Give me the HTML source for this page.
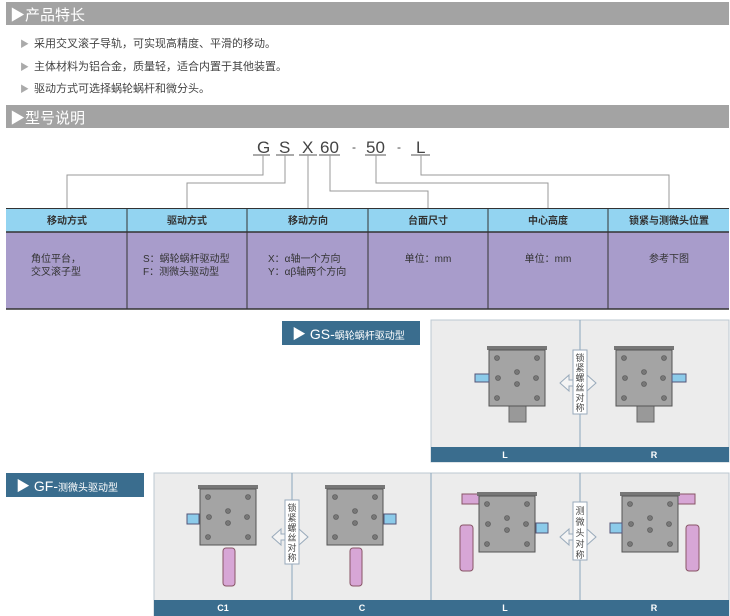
<!DOCTYPE html>
<html><head><meta charset="utf-8"><style>
html,body{margin:0;padding:0;background:#fff;}
svg{display:block;font-family:"Liberation Sans","Noto Sans CJK SC",sans-serif;}
</style></head><body>
<svg width="730" height="616" viewBox="0 0 730 616" xmlns="http://www.w3.org/2000/svg">
<defs>
<g id="dev">
  <rect x="-2" y="-4" width="60" height="4" fill="#777"/>
  <rect x="0" y="0" width="56" height="56" fill="#a4a4a4" stroke="#555" stroke-width="1"/>
  <g fill="#777" stroke="#555" stroke-width="0.6">
   <circle cx="8" cy="8" r="2.5"/><circle cx="48" cy="8" r="2.5"/>
   <circle cx="8" cy="48" r="2.5"/><circle cx="48" cy="48" r="2.5"/>
   <circle cx="28" cy="22" r="2.5"/><circle cx="28" cy="34" r="2.5"/>
   <circle cx="9" cy="28" r="2.5"/><circle cx="47" cy="28" r="2.5"/>
  </g>
</g>
<g id="arr">
  <path d="M0,0 L9,-8 L9,-3 L27,-3 L27,-8 L36,0 L27,8 L27,3 L9,3 L9,8 Z" fill="#f4f4f4" stroke="#9ab" stroke-width="1"/>
</g>
</defs>
<rect x="6" y="2" width="723" height="23" fill="#a3a3a3"/>
<text x="10" y="20" font-size="15" fill="#fff">▶产品特长</text>
<g font-size="11" fill="#444">
<text x="20" y="47" fill="#aaa" font-size="9">▶</text><text x="34" y="47">采用交叉滚子导轨，可实现高精度、平滑的移动。</text>
<text x="20" y="70" fill="#aaa" font-size="9">▶</text><text x="34" y="70">主体材料为铝合金，质量轻，适合内置于其他装置。</text>
<text x="20" y="92" fill="#aaa" font-size="9">▶</text><text x="34" y="92">驱动方式可选择蜗轮蜗杆和微分头。</text>
</g>
<rect x="6" y="105" width="723" height="23" fill="#a3a3a3"/>
<text x="10" y="123" font-size="15" fill="#fff">▶型号说明</text>
<g font-size="17" fill="#444" font-family="Liberation Sans,sans-serif">
<text x="257" y="153">G</text><text x="279" y="153">S</text><text x="302" y="153">X</text>
<text x="320" y="153">60</text><text x="352" y="151" font-size="12">-</text>
<text x="366" y="153">50</text><text x="397" y="151" font-size="12">-</text><text x="416" y="153">L</text>
</g>
<g stroke="#555" stroke-width="1">
<line x1="253" y1="155" x2="270" y2="155"/><line x1="276" y1="155" x2="294" y2="155"/>
<line x1="299" y1="155" x2="317" y2="155"/><line x1="319" y1="155" x2="340" y2="155"/>
<line x1="365" y1="155" x2="386" y2="155"/><line x1="411" y1="155" x2="430" y2="155"/>
</g>
<g stroke="#999" stroke-width="1" fill="none">
<polyline points="263,155 263,175 67,175 67,208"/>
<polyline points="285,155 285,183 187,183 187,208"/>
<polyline points="308,155 308,208"/>
<polyline points="330,155 330,191 428,191 428,208"/>
<polyline points="376,155 376,183 548,183 548,208"/>
<polyline points="421,155 421,175 669,175 669,208"/>
</g>
<rect x="6" y="208" width="723" height="24" fill="#93d4f1"/>
<rect x="6" y="232" width="723" height="77" fill="#a89ccb"/>
<g stroke="#333" stroke-width="1">
<line x1="6" y1="208.5" x2="729" y2="208.5"/><line x1="6" y1="232" x2="729" y2="232" stroke-width="1.5"/>
<line x1="6" y1="309" x2="729" y2="309" stroke-width="1.5"/>
<line x1="127" y1="208" x2="127" y2="309"/><line x1="247" y1="208" x2="247" y2="309"/>
<line x1="368" y1="208" x2="368" y2="309"/><line x1="488" y1="208" x2="488" y2="309"/>
<line x1="608" y1="208" x2="608" y2="309"/>
</g>
<g font-size="10" font-weight="bold" fill="#333" text-anchor="middle">
<text x="67" y="224">移动方式</text><text x="187" y="224">驱动方式</text><text x="308" y="224">移动方向</text>
<text x="428" y="224">台面尺寸</text><text x="548" y="224">中心高度</text><text x="669" y="224">锁紧与测微头位置</text>
</g>
<g font-size="10" fill="#333">
<text x="31" y="262">角位平台，</text><text x="31" y="275">交叉滚子型</text>
<text x="143" y="262">S：蜗轮蜗杆驱动型</text><text x="143" y="275">F：测微头驱动型</text>
<text x="268" y="262">X：α轴一个方向</text><text x="268" y="275">Y：αβ轴两个方向</text>
<text x="428" y="262" text-anchor="middle">单位：mm</text>
<text x="548" y="262" text-anchor="middle">单位：mm</text>
<text x="669" y="262" text-anchor="middle">参考下图</text>
</g>
<rect x="282" y="321" width="138" height="24" fill="#3a6d8e"/>
<text x="292" y="339" font-size="14" fill="#fff">▶ GS-<tspan font-size="10">蜗轮蜗杆驱动型</tspan></text>
<rect x="431" y="320" width="298" height="142" fill="#ececec" stroke="#bcc8d2"/>
<line x1="580" y1="320" x2="580" y2="447" stroke="#8aa6bd"/>
<rect x="431" y="447" width="298" height="15" fill="#3a6d8e"/>
<g font-size="9" font-weight="bold" fill="#fff" text-anchor="middle">
<text x="505" y="458">L</text><text x="654" y="458">R</text></g>
<rect x="509" y="405" width="17" height="17" fill="#999" stroke="#666"/>
<use href="#dev" x="489" y="350"/>
<rect x="475" y="374" width="14" height="8" fill="#8ccbea" stroke="#557"/>
<rect x="637" y="405" width="17" height="17" fill="#999" stroke="#666"/>
<use href="#dev" x="616" y="350"/>
<rect x="672" y="374" width="14" height="8" fill="#8ccbea" stroke="#557"/>
<use href="#arr" x="560" y="383"/>
<rect x="573" y="350" width="14" height="64" fill="#fff" stroke="#9ab"/>
<g font-size="9" fill="#444" text-anchor="middle"><text x="580" y="361">锁</text><text x="580" y="371">紧</text><text x="580" y="381">螺</text><text x="580" y="391">丝</text><text x="580" y="401">对</text><text x="580" y="411">称</text></g>
<rect x="6" y="473" width="138" height="24" fill="#3a6d8e"/>
<text x="16" y="491" font-size="14" fill="#fff">▶ GF-<tspan font-size="10">测微头驱动型</tspan></text>
<rect x="154" y="473" width="575" height="143" fill="#ececec" stroke="#bcc8d2"/>
<g stroke="#8aa6bd"><line x1="292" y1="473" x2="292" y2="600"/><line x1="431" y1="473" x2="431" y2="600"/><line x1="580" y1="473" x2="580" y2="600"/></g>
<rect x="154" y="600" width="575" height="16" fill="#3a6d8e"/>
<g font-size="9" font-weight="bold" fill="#fff" text-anchor="middle">
<text x="223" y="611">C1</text><text x="362" y="611">C</text><text x="505" y="611">L</text><text x="654" y="611">R</text></g>
<rect x="223" y="548" width="12" height="38" rx="3" fill="#d7a6d6" stroke="#856"/>
<use href="#dev" x="200" y="489"/>
<rect x="187" y="514" width="12" height="10" fill="#8ccbea" stroke="#557"/>
<rect x="350" y="548" width="12" height="38" rx="3" fill="#d7a6d6" stroke="#856"/>
<use href="#dev" x="327" y="489"/>
<rect x="384" y="514" width="12" height="10" fill="#8ccbea" stroke="#557"/>
<use href="#arr" x="272" y="537"/>
<rect x="285" y="500" width="14" height="64" fill="#fff" stroke="#9ab"/>
<g font-size="9" fill="#444" text-anchor="middle"><text x="292" y="511">锁</text><text x="292" y="521">紧</text><text x="292" y="531">螺</text><text x="292" y="541">丝</text><text x="292" y="551">对</text><text x="292" y="561">称</text></g>
<rect x="462" y="494" width="20" height="10" fill="#d7a6d6" stroke="#856"/>
<rect x="460" y="525" width="13" height="46" rx="3" fill="#d7a6d6" stroke="#856"/>
<use href="#dev" x="479" y="496"/>
<rect x="536" y="523" width="12" height="10" fill="#8ccbea" stroke="#557"/>
<rect x="675" y="494" width="20" height="10" fill="#d7a6d6" stroke="#856"/>
<rect x="686" y="525" width="13" height="46" rx="3" fill="#d7a6d6" stroke="#856"/>
<use href="#dev" x="622" y="496"/>
<rect x="610" y="523" width="12" height="10" fill="#8ccbea" stroke="#557"/>
<use href="#arr" x="560" y="537"/>
<rect x="573" y="502" width="14" height="58" fill="#fff" stroke="#9ab"/>
<g font-size="9" fill="#444" text-anchor="middle"><text x="580" y="514">测</text><text x="580" y="525">微</text><text x="580" y="536">头</text><text x="580" y="547">对</text><text x="580" y="558">称</text></g>
</svg>
</body></html>
